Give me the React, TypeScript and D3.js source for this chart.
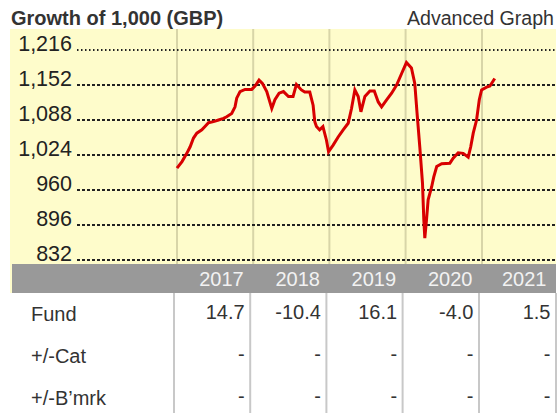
import React from "react";
import * as d3 from "d3";

const dates = [
  "2017-01-01","2017-01-25","2017-02-17","2017-03-05","2017-03-21","2017-04-06","2017-04-30","2017-05-15",
  "2017-06-01","2017-06-25","2017-07-19","2017-08-12","2017-08-27","2017-09-20","2017-10-06","2017-10-14",
  "2017-10-30","2017-11-23","2017-12-25","2018-01-10","2018-01-29","2018-02-14","2018-03-07","2018-03-31",
  "2018-04-15","2018-05-05","2018-05-26","2018-06-19","2018-07-11","2018-07-27","2018-08-20","2018-09-05",
  "2018-09-29","2018-10-15","2018-10-23","2018-10-31","2018-11-15","2018-12-01","2018-12-18","2018-12-28",
  "2019-01-19","2019-02-12","2019-03-08","2019-04-01","2019-04-17","2019-05-03","2019-05-19","2019-06-01",
  "2019-06-20","2019-07-14","2019-08-04","2019-08-23","2019-09-08","2019-10-02","2019-10-26","2019-11-19",
  "2019-12-13","2020-01-05","2020-01-29","2020-02-14","2020-02-25","2020-03-09","2020-03-22","2020-03-28",
  "2020-04-02","2020-04-10","2020-04-18","2020-05-05","2020-05-15","2020-05-29","2020-06-22","2020-07-31",
  "2020-08-16","2020-09-09","2020-10-03","2020-10-27","2020-11-08","2020-11-20","2020-12-06","2020-12-19",
  "2020-12-30","2021-01-23","2021-02-08","2021-03-03",
];
const values = [
  1000, 1012, 1027, 1039, 1055, 1064, 1070, 1076,
  1083, 1085, 1088, 1091, 1094, 1100, 1112, 1128,
  1140, 1144, 1144, 1150, 1161, 1155, 1140, 1109,
  1125, 1137, 1140, 1131, 1131, 1153, 1143, 1139,
  1139, 1115, 1085, 1076, 1070, 1076, 1051, 1030,
  1042, 1057, 1070, 1082, 1109, 1143, 1131, 1103,
  1131, 1141, 1141, 1121, 1112, 1125, 1137, 1152,
  1173, 1193, 1183, 1155, 1100, 1039, 972, 908,
  872, 905, 942, 966, 984, 1003, 1008, 1009,
  1018, 1028, 1027, 1020, 1039, 1064, 1088, 1125,
  1143, 1148, 1150, 1164,
];

const yTicks = [832, 896, 960, 1024, 1088, 1152, 1216];
const years = ["2017", "2018", "2019", "2020", "2021"];
const rowLabels = ["Fund", "+/-Cat", "+/-B\u2019mrk"];
const fundReturns = ["14.7", "-10.4", "16.1", "-4.0", "1.5"];
const catReturns = ["-", "-", "-", "-", "-"];
const bmrkReturns = ["-", "-", "-", "-", "-"];

const FONT = "'Liberation Sans', Arial, sans-serif";

export default function App() {
  const W = 558, H = 413;
  const plotLeft = 10, plotRight = 556, plotTop = 29, bandTop = 264, bandBottom = 293;
  const gridLeft = 77;

  const x = d3.scaleTime()
    .domain([new Date(2017, 0, 1), new Date(2021, 0, 1)])
    .range([177, 482]);
  const y = d3.scaleLinear().domain([832, 1216]).range([260, 50]);

  const parse = d3.timeParse("%Y-%m-%d");
  const pts: [number, number][] = dates.map((d, i) => [x(parse(d) as Date), y(values[i])]);
  const line = d3.line().curve(d3.curveLinear)(pts) || "";

  const yearStarts = years.map((yr) => x(new Date(+yr, 0, 1)));
  const colEnds = yearStarts.map((s, i) => (i < years.length - 1 ? yearStarts[i + 1] : plotRight));
  const tableLines = [...yearStarts.map((s) => s - 3), plotRight];

  const rows = [fundReturns, catReturns, bmrkReturns];
  const rowLabelBase = [321, 363, 405];
  const rowValBase = [319, 361, 403];

  return (
    <svg width={W} height={H} style={{ position: "absolute", left: 0, top: 0, background: "#fff" }}>
      <text x={11} y={24.5} fontFamily={FONT} fontWeight="bold" fontSize={20} fill="#333">
        Growth of 1,000 (GBP)
      </text>
      <text x={554} y={24.5} textAnchor="end" fontFamily={FONT} fontSize={19.6} fill="#333">
        Advanced Graph
      </text>

      <rect x={plotLeft} y={plotTop} width={plotRight - plotLeft} height={bandBottom - plotTop} fill="#fefccb" />

      {yearStarts.map((sx, i) => (
        <line key={"v" + i} x1={sx} x2={sx} y1={plotTop} y2={bandTop + 2} stroke="#d8d5a8" strokeWidth={2} />
      ))}

      {yTicks.map((t, i) => (
        <g key={"t" + i}>
          <line
            x1={gridLeft}
            x2={plotRight}
            y1={y(t)}
            y2={y(t)}
            stroke="#222"
            strokeWidth={2}
            strokeDasharray={i === yTicks.length - 1 ? "1.5,2.5" : "3,2"}
          />
          <text x={72} y={y(t) + 1} textAnchor="end" fontFamily={FONT} fontSize={21.5} fill="#222">
            {d3.format(",")(t)}
          </text>
        </g>
      ))}

      <rect x={plotLeft + 2} y={bandTop} width={plotRight - plotLeft - 2} height={bandBottom - bandTop} fill="#999999" />
      {years.map((yr, i) => (
        <text key={"y" + yr} x={colEnds[i] - 9.5} y={286} textAnchor="end" fontFamily={FONT} fontSize={20} fill="#f2f2f2">
          {yr}
        </text>
      ))}

      <path d={line} fill="none" stroke="#d80000" strokeWidth={3} strokeLinejoin="miter" />

      {tableLines.map((lx, i) => (
        <line key={"tl" + i} x1={lx} x2={lx} y1={bandBottom} y2={H} stroke="#c8c8c8" strokeWidth={2} />
      ))}
      {rowLabels.map((lab, r) => (
        <text key={"rl" + r} x={31} y={rowLabelBase[r]} fontFamily={FONT} fontSize={20} fill="#333">
          {lab}
        </text>
      ))}
      {rows.map((row, r) =>
        row.map((v, c) => (
          <text
            key={"c" + r + "-" + c}
            x={tableLines[c + 1] - 5.5}
            y={rowValBase[r]}
            textAnchor="end"
            fontFamily={FONT}
            fontSize={20}
            fill="#333"
          >
            {v}
          </text>
        ))
      )}
    </svg>
  );
}
